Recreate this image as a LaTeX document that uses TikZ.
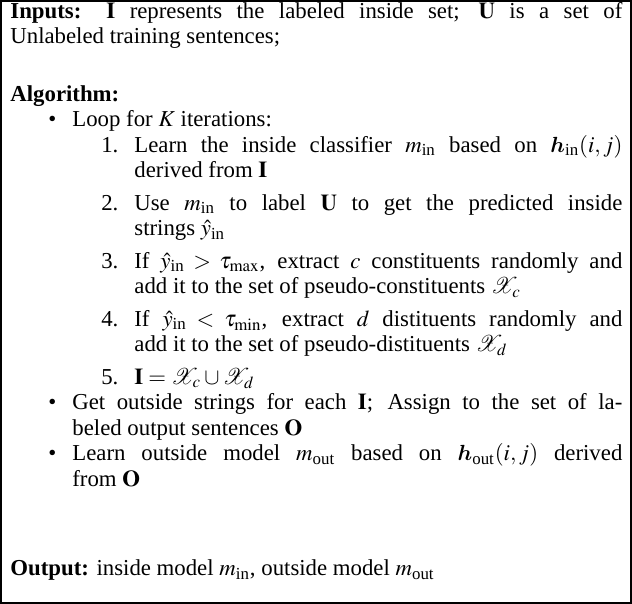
\documentclass[tikz,border=0pt]{standalone}
\usepackage{amsmath,amssymb,bm}
\usepackage{mathptmx}
\usepackage{fontspec}
\setmainfont{Liberation Serif}
\usepackage{enumitem}
\begin{document}
\begin{tikzpicture}[x=1pt,y=1pt]
\useasboundingbox (0,0) rectangle (316,302);
\draw[line width=0.6pt] (0.5,0.5) rectangle (315.5,301.5);
\node[anchor=north west, inner sep=0pt, text width=306pt, align=justify, font=\fontsize{11.4}{12.75}\selectfont] (body) at (5,301) {%
\textbf{Inputs:} $\mathbf{I}$ represents the labeled inside set; $\mathbf{U}$ is a set of\linebreak Unlabeled training sentences;\par
\vspace{16pt}
\textbf{Algorithm:}
\begin{itemize}[leftmargin=31pt,labelsep=8pt,topsep=0pt,itemsep=0pt,parsep=0pt,label=\textbullet]
\item Loop for $K$ iterations:
\begin{enumerate}[leftmargin=31pt,topsep=0pt,itemsep=3.5pt,parsep=0pt,label=\arabic*.]
\item Learn the inside classifier $m_{\text{in}}$ based on $\bm{h}_{\text{in}}(i,j)$\linebreak derived from $\mathbf{I}$
\item Use $m_{\text{in}}$ to label $\mathbf{U}$ to get the predicted inside\linebreak strings $\hat{y}_{\text{in}}$
\item If $\hat{y}_{\text{in}}>\tau_{\max}$, extract $c$ constituents randomly and\linebreak add it to the set of pseudo-constituents $\mathcal{X}_c$
\item If $\hat{y}_{\text{in}}<\tau_{\min}$, extract $d$ distituents randomly and\linebreak add it to the set of pseudo-distituents $\mathcal{X}_d$
\item $\mathbf{I}=\mathcal{X}_c\cup\mathcal{X}_d$
\end{enumerate}
\item Get outside strings for each $\mathbf{I}$; Assign to the set of la-\linebreak beled output sentences $\mathbf{O}$
\item Learn outside model $m_{\text{out}}$ based on $\bm{h}_{\text{out}}(i,j)$ derived\linebreak from $\mathbf{O}$
\end{itemize}
\vspace{32pt}
\noindent\textbf{Output:} inside model $m_{\text{in}}$, outside model $m_{\text{out}}$
};
\end{tikzpicture}
\end{document}
